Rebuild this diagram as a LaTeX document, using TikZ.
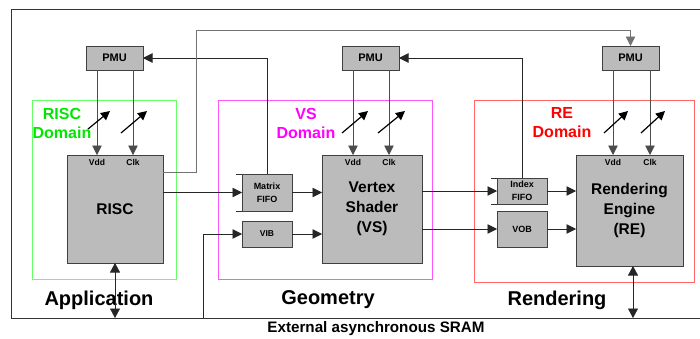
\documentclass[tikz,border=0pt]{standalone}
\usepackage{fontspec}
\setmainfont{Liberation Sans}
\usetikzlibrary{arrows.meta,calc}
\definecolor{blkfill}{HTML}{BBBBBB}
\definecolor{greenlab}{HTML}{00E600}
\definecolor{greenbox}{HTML}{66FF66}
\definecolor{magbox}{HTML}{FF55FF}
\definecolor{maglab}{HTML}{FF00FF}
\definecolor{redbox}{HTML}{FF6666}
\definecolor{redlab}{HTML}{FF0000}
\begin{document}
\begin{tikzpicture}[x=1pt,y=-1pt,
  blk/.style={draw=black!75,fill=blkfill,line width=0.8pt,inner sep=0pt,outer sep=0pt,anchor=north west,font=\bfseries,align=center},
  pin/.style={inner sep=0pt,font=\fontsize{8.5}{9}\selectfont\bfseries},
  arr/.style={draw=black!85,line width=0.6pt,-{Triangle[length=9.5pt,width=9.5pt]}},
  garr/.style={draw=black!55,line width=0.8pt,-{Triangle[length=9.5pt,width=9.5pt]}},
  darr/.style={draw=black!85,line width=0.6pt,{Triangle[length=9.5pt,width=10pt]}-{Triangle[length=9.5pt,width=10pt]}},
  slash/.style={draw=black,line width=1.2pt,-{Triangle[length=9pt,width=9pt]}},
  domlab/.style={font=\fontsize{16}{19}\selectfont\bfseries,align=center,inner sep=0pt},
  biglab/.style={font=\fontsize{20}{22}\selectfont\bfseries,inner sep=0pt}]
\useasboundingbox (0,0) rectangle (700,338);
% outer frame
\draw[black!80,line width=0.8pt] (702,9) -- (11,9) -- (11,318) -- (702,318);
\coordinate (frb) at (0,318);
% domains
\draw[greenbox,line width=0.8pt] (32,100) rectangle (176,279);
\draw[magbox,line width=0.8pt] (218,100) rectangle (432,279);
\draw[redbox,line width=0.8pt] (474,100) rectangle (694,282);
\node[domlab,text=greenlab] (dA) at (62,123) {RISC\\Domain};
\node[domlab,text=maglab] (dB) at (306,123) {VS\\Domain};
\node[domlab,text=redlab] (dC) at (562,123) {RE\\Domain};
% bottom labels
\node[biglab] (app) at (99,300) {Application};
\node[biglab] (geo) at (328,300) {Geometry};
\node[biglab] (ren) at (557,300) {Rendering};
\node[inner sep=0pt,font=\fontsize{15.2}{17}\selectfont\bfseries] (sram) at (376,329) {External asynchronous SRAM};
% PMUs
\node[blk,minimum width=57pt,minimum height=24pt,font=\fontsize{11}{12}\selectfont\bfseries] (pmuA) at (86,46) {PMU};
\node[blk,minimum width=57pt,minimum height=24pt,font=\fontsize{11}{12}\selectfont\bfseries] (pmuB) at (342,46) {PMU};
\node[blk,minimum width=57pt,minimum height=24pt,font=\fontsize{11}{12}\selectfont\bfseries] (pmuC) at (602,46) {PMU};
% main blocks
\node[blk,minimum width=96pt,minimum height=108pt,font=\fontsize{15.5}{19}\selectfont\bfseries] (risc) at (67,155) {RISC};
\node[blk,minimum width=100pt,minimum height=108pt,font=\fontsize{15.5}{20}\selectfont\bfseries] (vs) at (322,155) {Vertex\\Shader\\(VS)};
\node[blk,minimum width=107pt,minimum height=111pt,font=\fontsize{15.5}{20}\selectfont\bfseries] (re) at (576,155) {Rendering\\Engine\\(RE)};
% small blocks
\node[blk,minimum width=50pt,minimum height=37pt,font=\fontsize{9}{13}\selectfont\bfseries] (mfifo) at (242,174) {Matrix\\FIFO};
\node[blk,minimum width=50pt,minimum height=26pt,font=\fontsize{8.5}{10}\selectfont\bfseries] (vib) at (242,221) {VIB};
\node[blk,minimum width=50pt,minimum height=26pt,font=\fontsize{9}{13}\selectfont\bfseries] (ififo) at (497,178) {Index\\FIFO};
\node[blk,minimum width=50pt,minimum height=36pt,font=\fontsize{9}{10}\selectfont\bfseries] (vob) at (497,211) {VOB};
% FIFO extensions
\draw[black!80,line width=0.6pt] (mfifo.north west) -- ++(-6,0) (mfifo.south west) -- ++(-6,0);
\draw[black!80,line width=0.6pt] (ififo.north west) -- ++(-6,0) (ififo.south west) -- ++(-6,0);
% pin labels
\node[pin] (vddA) at (97,162) {Vdd};
\node[pin] (clkA) at (133,162) {Clk};
\node[pin] (vddB) at (353,162) {Vdd};
\node[pin] (clkB) at (389,162) {Clk};
\node[pin] (vddC) at (613,162) {Vdd};
\node[pin] (clkC) at (650,162) {Clk};
% PMU to blocks
\foreach \p/\b/\v/\c in {pmuA/risc/vddA/clkA, pmuB/vs/vddB/clkB, pmuC/re/vddC/clkC}{
  \draw[arr,draw=black!70] (\v |- \p.south) -- (\v |- \b.north);
  \draw[arr,draw=black!70] (\c |- \p.south) -- (\c |- \b.north);
}
% slash arrows
\draw[slash] (88,129) -- (110,111);
\draw[slash] (121,133) -- (147,111);
\draw[slash] (342,133) -- (368,111);
\draw[slash] (378,133) -- (405,111);
\draw[slash] (604,133) -- (628,111);
\draw[slash] (641,133) -- (665,111);
% data paths
\draw[arr] (mfifo.west -| risc.east) -- (mfifo.west);
\draw[arr] (mfifo.east) -- (mfifo.east -| vs.west);
\coordinate (vibin) at (203,318);
\draw[arr] (vibin) |- (vib.west);
\draw[arr] (vib.east) -- (vib.east -| vs.west);
\draw[arr] (ififo.west -| vs.east) -- (ififo.west);
\draw[arr] (ififo.east) -- (ififo.east -| re.west);
\draw[arr] (vob.west -| vs.east) -- (vob.west);
\draw[arr] (vob.east) -- (vob.east -| re.west);
% feedback to PMUs
\draw[arr] (mfifo.north) |- (pmuA.east);
\draw[arr] (ififo.north) |- (pmuB.east);
\coordinate (gA) at (196,30);
\coordinate (gS) at (163,172);
\draw[garr] (gS) -| (gA) -| (pmuC.north);
% memory links
\coordinate (reb) at (633,266);
\coordinate (reB) at (633,318);
\draw[darr] (risc.south) -- (risc.south |- frb);
\draw[darr] (reb) -- (reB);
\end{tikzpicture}
\end{document}
